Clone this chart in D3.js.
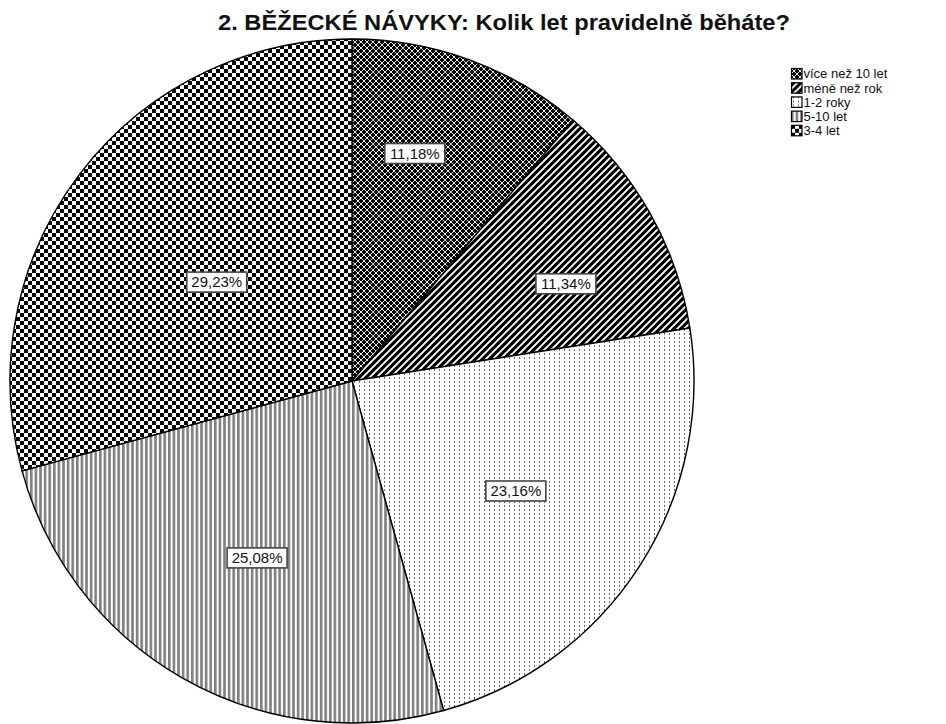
<!DOCTYPE html>
<html>
<head>
<meta charset="utf-8">
<script src="https://cdn.jsdelivr.net/npm/d3@7"></script>
<style>
  html, body { margin: 0; padding: 0; background: #fff; }
  svg { display: block; font-family: "Liberation Sans", Arial, sans-serif; }
</style>
</head>
<body>
<svg id="chart" width="946" height="724"></svg>
<script>
// Answers to "Kolik let pravidelně běháte?" (share of respondents, %)
const categories = ["více než 10 let", "méně než rok", "1-2 roky", "5-10 let", "3-4 let"];
const values = [11.18, 11.34, 23.16, 25.08, 29.23];
const chartTitle = "2. BĚŽECKÉ NÁVYKY: Kolik let pravidelně běháte?";

// Fill pattern id per category (same order as categories)
const patternIds = ["pCross", "pDiag", "pDots", "pVert", "pCheck"];
// Label placement: distance from the centre (fraction of radius) and angular nudge (degrees)
const labelRadiusFactor = [0.69, 0.687, 0.577, 0.587, 0.49];
const labelAngleShift = [-4.7, 4.9, 1.1, -1.4, -1.2];

const W = 946, H = 724;
const cx = 352, cy = 381, R = 342;

const svg = d3.select("#chart");
const defs = svg.append("defs");

function pattern(id, w, h) {
  return defs.append("pattern")
    .attr("id", id)
    .attr("patternUnits", "userSpaceOnUse")
    .attr("width", w).attr("height", h);
}

// diamond crosshatch: thin white diagonal grid on black
{
  const s = 6;
  const p = pattern("pCross", s, s);
  p.append("rect").attr("width", s).attr("height", s).attr("fill", "#000");
  p.append("path").attr("d", `M0,0L${s},${s}M${s},0L0,${s}`)
    .attr("stroke", "#fff").attr("stroke-width", 0.9);
}
// white "/" stripes on black
{
  const s = 7;
  const p = pattern("pDiag", s, s);
  p.append("rect").attr("width", s).attr("height", s).attr("fill", "#000");
  p.append("path").attr("d", `M0,${s}L${s},0M-1,1L1,-1M${s-1},${s+1}L${s+1},${s-1}`)
    .attr("stroke", "#fff").attr("stroke-width", 1.9);
}
// grey dotted vertical lines on white
{
  const p = pattern("pDots", 5, 4);
  p.append("rect").attr("width", 5).attr("height", 4).attr("fill", "#fff");
  p.append("rect").attr("x", 2).attr("y", 0).attr("width", 1).attr("height", 2).attr("fill", "#6e6e6e");
}
// grey vertical stripes on white
{
  const p = pattern("pVert", 4.6, 4);
  p.append("rect").attr("width", 4.6).attr("height", 4).attr("fill", "#fff");
  p.append("rect").attr("x", 0).attr("width", 2.6).attr("height", 4).attr("fill", "#7f7f7f");
}
// black and white checkerboard
{
  const p = pattern("pCheck", 8, 8);
  p.append("rect").attr("width", 8).attr("height", 8).attr("fill", "#fff");
  p.append("rect").attr("x", 0).attr("y", 0).attr("width", 4).attr("height", 4).attr("fill", "#000");
  p.append("rect").attr("x", 4).attr("y", 4).attr("width", 4).attr("height", 4).attr("fill", "#000");
}

svg.append("rect").attr("width", W).attr("height", H).attr("fill", "#fff");

// title
svg.append("text")
  .attr("x", 504).attr("y", 30)
  .attr("text-anchor", "middle")
  .attr("font-size", 22).attr("font-weight", "bold")
  .attr("textLength", 572).attr("lengthAdjust", "spacingAndGlyphs")
  .attr("fill", "#111")
  .text(chartTitle);

const data = categories.map((c, i) => ({
  cat: c, value: values[i], pat: patternIds[i],
  lf: labelRadiusFactor[i], la: labelAngleShift[i] * Math.PI / 180
}));

const pie = d3.pie().sort(null).value(d => d.value).startAngle(0).endAngle(2 * Math.PI);
const arcs = pie(data);
const arc = d3.arc().innerRadius(0).outerRadius(R);

const g = svg.append("g").attr("transform", `translate(${cx},${cy})`);

g.selectAll("path.slice")
  .data(arcs)
  .join("path")
  .attr("class", "slice")
  .attr("d", arc)
  .attr("fill", d => `url(#${d.data.pat})`)
  .attr("stroke", "#000")
  .attr("stroke-width", 1.4)
  .attr("stroke-linejoin", "round");

// value labels in white boxes
const fmt = v => v.toFixed(2).replace(".", ",") + "%";
const labels = g.selectAll("g.lbl")
  .data(arcs)
  .join("g")
  .attr("class", "lbl")
  .attr("transform", d => {
    const r = R * d.data.lf;
    const la = d3.arc().innerRadius(r).outerRadius(r);
    const [x, y] = la.centroid({
      startAngle: d.startAngle + d.data.la,
      endAngle: d.endAngle + d.data.la
    });
    return `translate(${x},${y})`;
  });

labels.each(function(d) {
  const sel = d3.select(this);
  sel.append("rect")
    .attr("x", -30).attr("y", -10)
    .attr("width", 60).attr("height", 20)
    .attr("fill", "#fff")
    .attr("stroke", "#444")
    .attr("stroke-width", 1.6);
  sel.append("text")
    .attr("text-anchor", "middle")
    .attr("dy", "0.36em")
    .attr("font-size", 15)
    .attr("fill", "#111")
    .text(fmt(d.data.value));
});

// legend
const legend = svg.append("g").attr("transform", "translate(791,68)");
const item = legend.selectAll("g")
  .data(data)
  .join("g")
  .attr("transform", (d, i) => `translate(0,${i * 14.2})`);
item.append("rect")
  .attr("x", 0.5).attr("y", 0.5)
  .attr("width", 10.5).attr("height", 10.5)
  .attr("fill", d => `url(#${d.pat})`)
  .attr("stroke", "#000").attr("stroke-width", 1.2);
item.append("text")
  .attr("x", 12.5).attr("y", 5.8)
  .attr("dy", "0.36em")
  .attr("font-size", 13)
  .attr("fill", "#111")
  .text(d => d.cat);
</script>
</body>
</html>
